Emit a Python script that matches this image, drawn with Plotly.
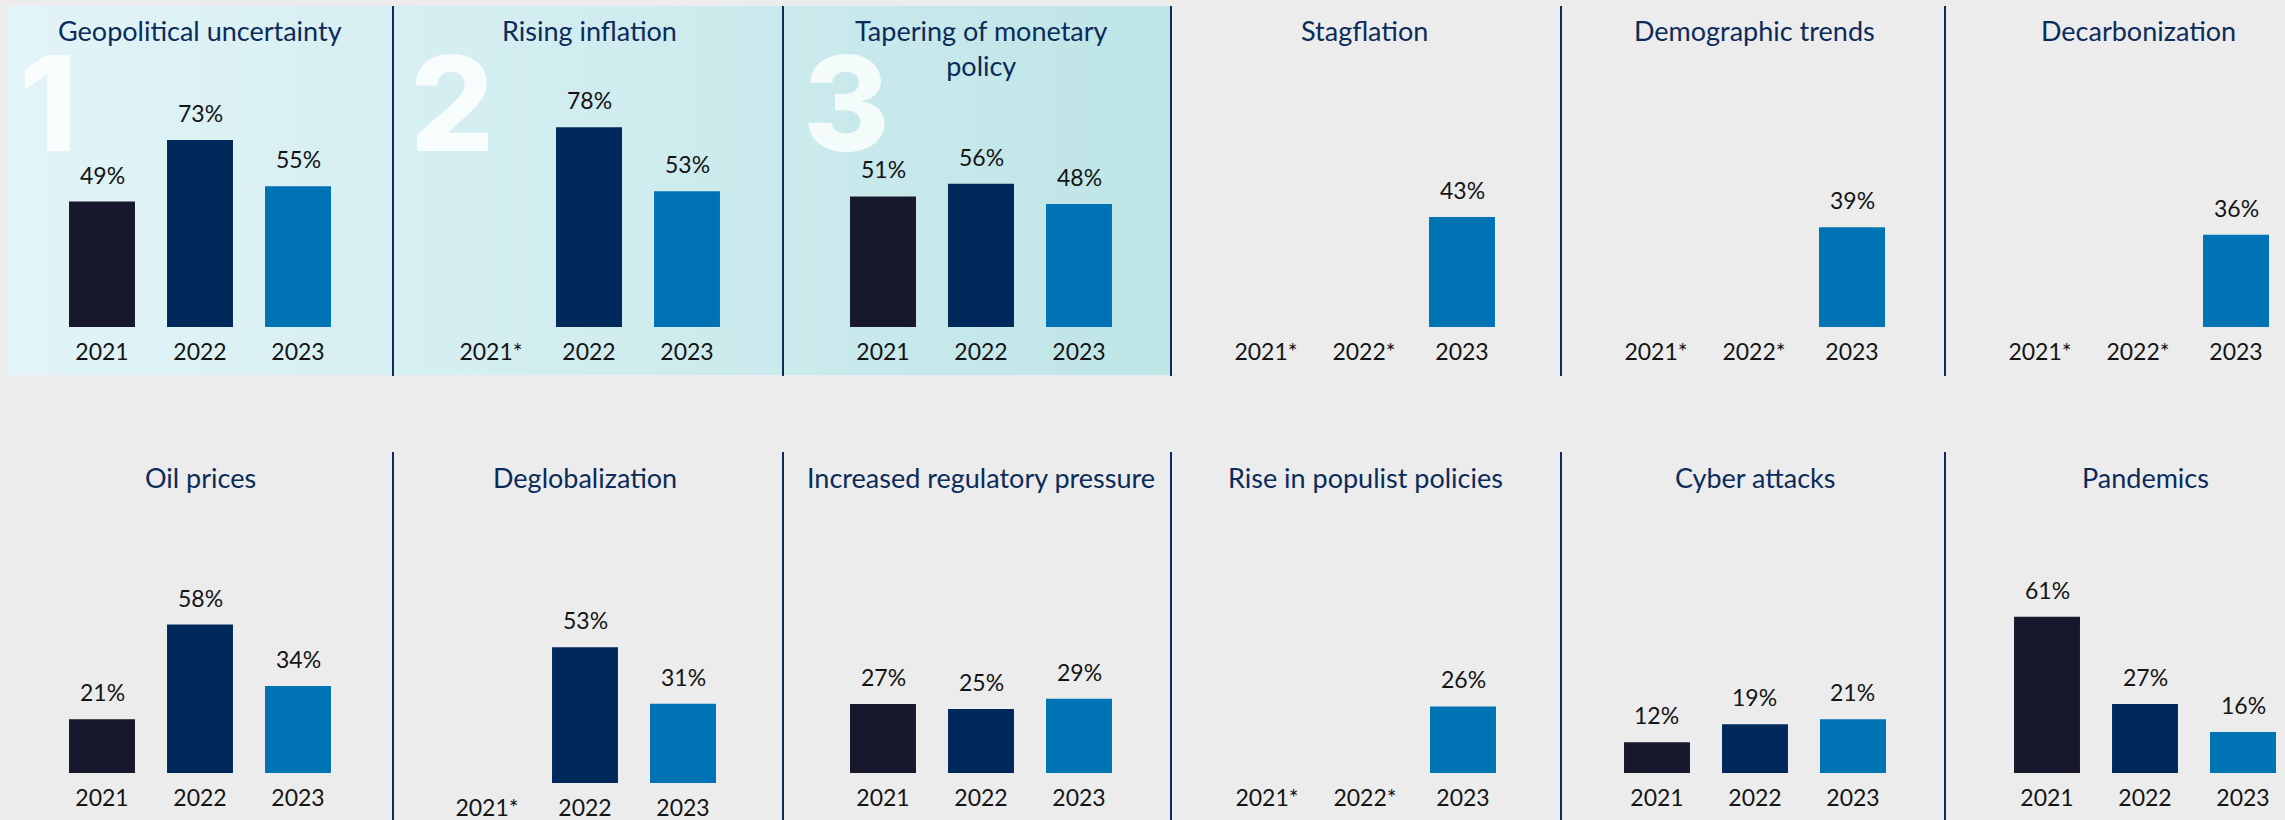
import plotly.graph_objects as go

# ---------------- data ----------------
years = ["2021", "2022", "2023"]
titles = [
    "Geopolitical uncertainty", "Rising inflation", "Tapering of monetary<br>policy",
    "Stagflation", "Demographic trends", "Decarbonization",
    "Oil prices", "Deglobalization", "Increased regulatory pressure",
    "Rise in populist policies", "Cyber attacks", "Pandemics",
]
v2021 = [49, None, 51, None, None, None, 21, None, 27, None, 12, 61]
v2022 = [73, 78, 56, None, None, None, 58, 53, 25, None, 19, 27]
v2023 = [55, 53, 48, 43, 39, 36, 34, 31, 29, 26, 21, 16]
rank_labels = ["1", "2", "3"]

# ---------------- style / layout constants ----------------
W, H = 2285, 820
BG = "#ececec"
BAR_COLORS = ["#17182b", "#00295b", "#0073b5"]
TITLE_COLOR = "#0b2b5b"
TEXT_COLOR = "#141414"
SEP_COLOR = "#0b2d5e"
FONT = "Lato, 'Open Sans', sans-serif"

first_centers = [[102, 491, 883, 1266, 1656, 2040],
                 [102, 487, 883, 1267, 1657, 2047]]
baselines = [327, 327, 327, 327, 327, 327,
             773, 783, 773, 773, 773, 773]
title_y = [29, 476]
SPACING = 98.0      # px per category
PX_PER_PCT = 2.56
PLOT_H = 250


def py(y):
    return 1 - y / H


fig = go.Figure()
layout = {}
annotations = []
shapes = []

# gradient highlight box behind the top-3 panels
gx0, gx1, gy0, gy1 = 8, 1171, 6, 375
c_left = (226, 244, 247)
c_right = (191, 229, 231)
N = 90
for i in range(N):
    t = i / (N - 1)
    col = tuple(round(c_left[j] + (c_right[j] - c_left[j]) * t) for j in range(3))
    xa = gx0 + (gx1 - gx0) * i / N
    xb = gx0 + (gx1 - gx0) * (i + 1) / N + 1
    shapes.append(dict(type="rect", xref="paper", yref="paper",
                       x0=xa / W, x1=min(xb, gx1) / W, y0=py(gy1), y1=py(gy0),
                       fillcolor="rgb(%d,%d,%d)" % col, line=dict(width=0), layer="below"))

# big rank numbers (drawn first so titles sit on top)
for i, lab in enumerate(rank_labels):
    left = [17, 408, 801][i]
    annotations.append(dict(
        xref="paper", yref="paper", x=left / W, y=py(103), text=lab,
        showarrow=False, xanchor="left", yanchor="middle",
        font=dict(family="Inter, Lato, sans-serif", size=132, color="rgba(255,255,255,0.8)",
                  weight=800),
    ))

for k in range(12):
    row, col = divmod(k, 6)
    s = "" if k == 0 else str(k + 1)
    vals = [v2021[k], v2022[k], v2023[k]]
    cats = [y + ("*" if v is None else "") for y, v in zip(years, vals)]
    pos = list(range(len(cats)))
    c0 = first_centers[row][col]
    a = c0 - 0.99 * SPACING
    b = min(a + 390, W)
    base = baselines[k]

    fig.add_trace(go.Bar(
        x=pos, y=vals, marker=dict(color=BAR_COLORS, line=dict(width=0)),
        width=0.673, xaxis="x" + s, yaxis="y" + s, showlegend=False,
        hoverinfo="skip", cliponaxis=False,
    ))
    layout["xaxis" + s] = dict(
        domain=[a / W, b / W], range=[-0.99, -0.99 + (b - a) / SPACING],
        type="linear", tickmode="array", tickvals=pos, ticktext=cats,
        anchor="y" + s, showgrid=False, zeroline=False, showline=False,
        ticks="outside", ticklen=4, tickcolor="rgba(0,0,0,0)",
        tickfont=dict(family=FONT, size=23, color=TEXT_COLOR), fixedrange=True,
    )
    layout["yaxis" + s] = dict(
        domain=[py(base), py(base - PLOT_H)], range=[0, PLOT_H / PX_PER_PCT],
        visible=False, anchor="x" + s, fixedrange=True,
    )
    # value labels
    for p, v in zip(pos, vals):
        if v is None:
            continue
        annotations.append(dict(
            xref="x" + s, yref="y" + s, x=p, y=v, text=f"{v}%", showarrow=False,
            yanchor="middle", yshift=27,
            font=dict(family=FONT, size=23, color=TEXT_COLOR),
        ))
    # panel title
    annotations.append(dict(
        xref="x" + s, yref="paper", x=1, y=py(title_y[row] - 17),
        text=titles[k], showarrow=False, yanchor="top", align="center",
        font=dict(family=FONT, size=27, color=TITLE_COLOR),
    ))

# separators
for xs in [393, 783, 1171, 1561, 1945]:
    shapes.append(dict(type="line", xref="paper", yref="paper",
                       x0=xs / W, x1=xs / W, y0=py(376), y1=py(6),
                       line=dict(color=SEP_COLOR, width=2)))
    shapes.append(dict(type="line", xref="paper", yref="paper",
                       x0=xs / W, x1=xs / W, y0=py(820), y1=py(452),
                       line=dict(color=SEP_COLOR, width=2)))

fig.update_layout(
    width=W, height=H, autosize=False,
    margin=dict(l=0, r=0, t=0, b=0),
    paper_bgcolor=BG, plot_bgcolor="rgba(0,0,0,0)",
    font=dict(family=FONT, color=TEXT_COLOR),
    annotations=annotations, shapes=shapes, **layout,
)

fig.write_html(
    "out.html",
    config={"displayModeBar": False},
    post_script="document.body.style.margin='0';document.body.style.overflow='hidden';",
)
